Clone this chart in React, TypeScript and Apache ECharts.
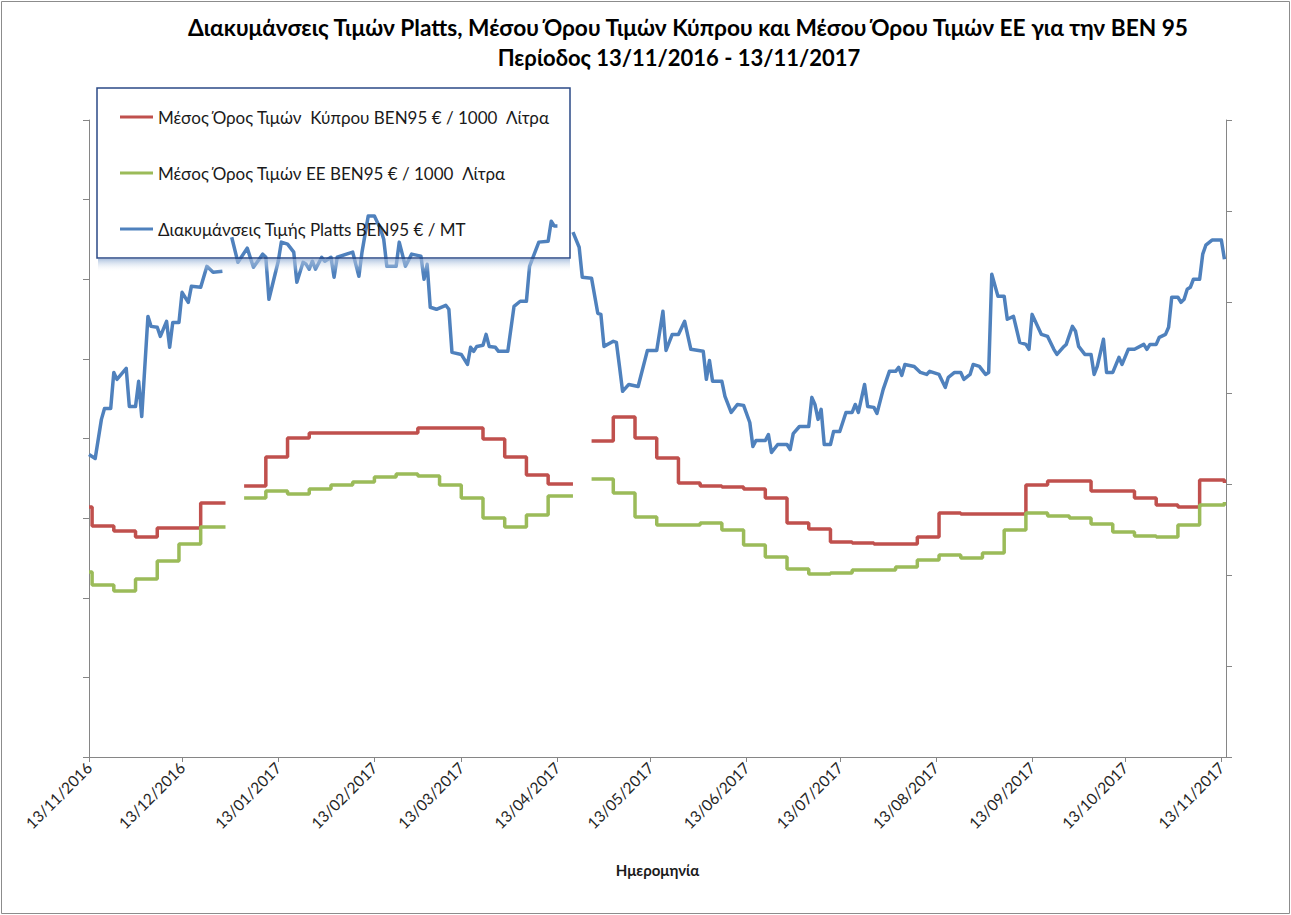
import React, { useEffect, useRef } from 'react';
import * as echarts from 'echarts';

const FONT = "Lato, 'Noto Sans', 'DejaVu Sans', sans-serif";

const titleLine1 = 'Διακυμάνσεις Τιμών Platts, Μέσου Όρου Τιμών Κύπρου και Μέσου Όρου Τιμών ΕΕ για την BEN 95';
const titleLine2 = 'Περίοδος 13/11/2016 - 13/11/2017';
const xAxisName = 'Ημερομηνία';

const cyprusName = 'Μέσος Όρος Τιμών  Κύπρου BEN95 € / 1000  Λίτρα';
const euName = 'Μέσος Όρος Τιμών ΕΕ BEN95 € / 1000  Λίτρα';
const plattsName = 'Διακυμάνσεις Τιμής Platts BEN95 € / MT';

const tickDates = [
  '2016-11-13', '2016-12-13', '2017-01-13', '2017-02-13', '2017-03-13', '2017-04-13', '2017-05-13',
  '2017-06-13', '2017-07-13', '2017-08-13', '2017-09-13', '2017-10-13', '2017-11-13',
];

// weekly bulletin dates (null values mark the weeks without data)
const weekDates = [
  '2016-11-13', '2016-11-14', '2016-11-21', '2016-11-28', '2016-12-05', '2016-12-12', '2016-12-19', '2016-12-26', '2016-12-27',
  '2017-01-02', '2017-01-09', '2017-01-16', '2017-01-23', '2017-01-30', '2017-02-06', '2017-02-13', '2017-02-20',
  '2017-02-27', '2017-03-06', '2017-03-13', '2017-03-20', '2017-03-27', '2017-04-03', '2017-04-10', '2017-04-17', '2017-04-18',
  '2017-04-24', '2017-05-01', '2017-05-08', '2017-05-15', '2017-05-22', '2017-05-29', '2017-06-05', '2017-06-12',
  '2017-06-19', '2017-06-26', '2017-07-03', '2017-07-10', '2017-07-17', '2017-07-24', '2017-07-31', '2017-08-07',
  '2017-08-14', '2017-08-21', '2017-08-28', '2017-09-04', '2017-09-11', '2017-09-18', '2017-09-25', '2017-10-02',
  '2017-10-09', '2017-10-16', '2017-10-23', '2017-10-30', '2017-11-06', '2017-11-14',
];

const cyprusValues = [
  457.0, 445.1, 441.9, 438.1, 443.8, 443.8, 459.5, 459.5, null,
  470.2, 488.4, 500.3, 503.5, 503.5, 503.5, 503.5, 503.5,
  506.6, 506.6, 506.6, 499.7, 488.4, 477.1, 471.4, 471.4, null,
  498.4, 513.5, 500.3, 487.8, 472.1, 470.2, 469.5, 468.3,
  462.6, 446.9, 443.2, 435.0, 434.4, 433.8, 433.8, 438.1,
  453.2, 452.6, 452.6, 452.6, 470.8, 473.3, 473.3, 467.0,
  467.0, 462.6, 458.2, 457.0, 473.9, 472.1,
];

const euValues = [
  416.2, 408.0, 404.2, 411.8, 423.1, 433.8, 444.4, 444.4, null,
  462.6, 467.0, 465.1, 468.3, 470.8, 472.7, 475.8, 477.7,
  476.5, 470.8, 462.6, 450.1, 444.4, 452.0, 463.9, 463.9, null,
  474.6, 465.8, 450.7, 445.7, 445.7, 446.9, 442.5, 433.1,
  425.6, 418.1, 414.9, 415.5, 417.4, 417.4, 419.3, 423.7,
  426.8, 425.0, 428.1, 442.5, 453.2, 451.3, 450.1, 446.3,
  441.3, 438.8, 438.1, 445.7, 458.2, 460.1,
];

// Platts daily quotes [date, €/MT]
const plattsPoints: [string, number | null][] = [
  ['2016-11-13', 416.2], ['2016-11-15', 414.0], ['2016-11-17', 435.5], ['2016-11-18', 441.5], ['2016-11-20', 441.5],
  ['2016-11-21', 461.3], ['2016-11-22', 457.5], ['2016-11-25', 463.5], ['2016-11-26', 442.6], ['2016-11-28', 442.6],
  ['2016-11-29', 456.4], ['2016-11-30', 437.1], ['2016-12-02', 492.1], ['2016-12-03', 486.6], ['2016-12-05', 486.1],
  ['2016-12-06', 481.1], ['2016-12-08', 489.4], ['2016-12-09', 475.1], ['2016-12-10', 488.8], ['2016-12-12', 488.8],
  ['2016-12-13', 505.3], ['2016-12-15', 499.8], ['2016-12-16', 508.6], ['2016-12-19', 508.1], ['2016-12-21', 519.6],
  ['2016-12-23', 516.3], ['2016-12-26', 516.9], ['2016-12-27', null],
  ['2016-12-29', 535.6], ['2016-12-31', 521.8], ['2017-01-03', 529.6], ['2017-01-05', 519.1], ['2017-01-08', 526.3],
  ['2017-01-09', 524.6], ['2017-01-10', 501.5], ['2017-01-13', 522.4], ['2017-01-14', 532.9], ['2017-01-16', 531.8],
  ['2017-01-18', 527.4], ['2017-01-19', 510.8], ['2017-01-21', 521.8], ['2017-01-22', 520.7], ['2017-01-23', 518.0],
  ['2017-01-24', 522.4], ['2017-01-25', 518.0], ['2017-01-27', 524.6], ['2017-01-28', 522.4], ['2017-01-30', 524.6],
  ['2017-01-31', 513.6], ['2017-02-01', 524.6], ['2017-02-04', 526.3], ['2017-02-06', 527.4], ['2017-02-08', 514.1],
  ['2017-02-09', 527.4], ['2017-02-11', 547.2], ['2017-02-13', 547.2], ['2017-02-15', 540.0], ['2017-02-16', 534.5],
  ['2017-02-17', 519.6], ['2017-02-20', 519.6], ['2017-02-21', 532.9], ['2017-02-23', 519.6], ['2017-02-25', 526.3],
  ['2017-02-28', 525.2], ['2017-03-01', 512.5], ['2017-03-02', 520.7], ['2017-03-03', 497.1], ['2017-03-05', 496.0],
  ['2017-03-08', 498.2], ['2017-03-09', 496.0], ['2017-03-10', 472.3], ['2017-03-13', 471.2], ['2017-03-15', 465.7],
  ['2017-03-16', 475.1], ['2017-03-17', 472.9], ['2017-03-18', 475.6], ['2017-03-20', 476.2], ['2017-03-21', 482.2],
  ['2017-03-22', 475.6], ['2017-03-24', 475.1], ['2017-03-25', 472.9], ['2017-03-28', 472.9], ['2017-03-30', 497.6],
  ['2017-04-01', 500.4], ['2017-04-03', 500.4], ['2017-04-04', 519.6], ['2017-04-07', 532.9], ['2017-04-10', 533.4],
  ['2017-04-11', 544.4], ['2017-04-12', 541.7], ['2017-04-13', 541.7], ['2017-04-14', null],
  ['2017-04-18', 538.4], ['2017-04-20', 530.1], ['2017-04-21', 513.6], ['2017-04-24', 513.0], ['2017-04-26', 493.8],
  ['2017-04-27', 493.2], ['2017-04-28', 475.6], ['2017-05-01', 478.4], ['2017-05-02', 477.8], ['2017-05-03', 464.6],
  ['2017-05-04', 450.9], ['2017-05-06', 454.7], ['2017-05-09', 453.6], ['2017-05-12', 473.4], ['2017-05-15', 473.4],
  ['2017-05-17', 494.9], ['2017-05-18', 473.4], ['2017-05-20', 482.2], ['2017-05-22', 482.2], ['2017-05-24', 489.4],
  ['2017-05-26', 474.0], ['2017-05-30', 472.9], ['2017-05-31', 457.5], ['2017-06-01', 467.9], ['2017-06-02', 456.4],
  ['2017-06-05', 456.4], ['2017-06-06', 448.1], ['2017-06-08', 439.3], ['2017-06-10', 443.7], ['2017-06-12', 443.2],
  ['2017-06-14', 433.8], ['2017-06-15', 420.6], ['2017-06-16', 423.9], ['2017-06-19', 423.9], ['2017-06-20', 427.2],
  ['2017-06-21', 417.3], ['2017-06-23', 421.7], ['2017-06-26', 421.7], ['2017-06-27', 418.9], ['2017-06-28', 427.7],
  ['2017-06-30', 431.6], ['2017-07-03', 431.6], ['2017-07-04', 447.6], ['2017-07-05', 443.7], ['2017-07-06', 435.5],
  ['2017-07-07', 441.0], ['2017-07-08', 421.7], ['2017-07-10', 421.7], ['2017-07-11', 428.8], ['2017-07-13', 428.8],
  ['2017-07-15', 439.3], ['2017-07-17', 439.3], ['2017-07-18', 443.7], ['2017-07-19', 439.3], ['2017-07-21', 454.7],
  ['2017-07-22', 442.6], ['2017-07-24', 442.1], ['2017-07-25', 438.8], ['2017-07-27', 452.0], ['2017-07-29', 461.9],
  ['2017-07-31', 461.9], ['2017-08-01', 464.1], ['2017-08-02', 459.7], ['2017-08-03', 465.7], ['2017-08-06', 464.6],
  ['2017-08-08', 461.3], ['2017-08-10', 460.2], ['2017-08-11', 461.9], ['2017-08-14', 460.2], ['2017-08-16', 453.1],
  ['2017-08-17', 458.6], ['2017-08-19', 461.3], ['2017-08-21', 461.3], ['2017-08-22', 457.5], ['2017-08-24', 460.2],
  ['2017-08-25', 465.7], ['2017-08-27', 464.6], ['2017-08-29', 460.2], ['2017-08-30', 461.3], ['2017-08-31', 515.2],
  ['2017-09-02', 503.1], ['2017-09-04', 503.1], ['2017-09-05', 490.5], ['2017-09-07', 492.1], ['2017-09-09', 477.8],
  ['2017-09-11', 476.7], ['2017-09-12', 474.0], ['2017-09-13', 493.2], ['2017-09-16', 482.2], ['2017-09-18', 481.1],
  ['2017-09-20', 474.0], ['2017-09-21', 471.2], ['2017-09-23', 475.1], ['2017-09-24', 476.7], ['2017-09-26', 486.6],
  ['2017-09-27', 483.9], ['2017-09-28', 475.6], ['2017-09-30', 471.2], ['2017-10-02', 471.2], ['2017-10-03', 460.2],
  ['2017-10-04', 464.6], ['2017-10-06', 479.5], ['2017-10-07', 461.3], ['2017-10-09', 461.3], ['2017-10-11', 469.6],
  ['2017-10-12', 465.7], ['2017-10-14', 474.0], ['2017-10-16', 474.0], ['2017-10-19', 476.7], ['2017-10-20', 474.0],
  ['2017-10-21', 476.7], ['2017-10-23', 476.7], ['2017-10-24', 480.6], ['2017-10-26', 482.2], ['2017-10-27', 486.1],
  ['2017-10-28', 502.6], ['2017-10-30', 502.6], ['2017-10-31', 499.8], ['2017-11-01', 501.5], ['2017-11-02', 507.0],
  ['2017-11-03', 508.1], ['2017-11-04', 512.5], ['2017-11-06', 512.5], ['2017-11-07', 526.3], ['2017-11-08', 531.2],
  ['2017-11-10', 534.0], ['2017-11-13', 534.0], ['2017-11-14', 523.5],
];

const ts = (s: string) => {
  const [y, m, d] = s.split('-').map(Number);
  return new Date(y, m - 1, d).getTime();
};
const pad = (n: number) => (n < 10 ? '0' + n : '' + n);
const fmtDate = (v: number) => {
  const d = new Date(v);
  return pad(d.getDate()) + '/' + pad(d.getMonth() + 1) + '/' + d.getFullYear();
};

export default function App() {
  const ref = useRef<HTMLDivElement>(null);

  useEffect(() => {
    document.body.style.margin = '0';
    if (!ref.current) return;
    const chart = echarts.init(ref.current, null, { renderer: 'svg' });
    const tickTs = tickDates.map(ts);
    const axisColor = '#868686';

    const stepData = (vals: (number | null)[]) =>
      weekDates.map((d, i) => [ts(d), vals[i] === null ? '-' : vals[i]]);

    chart.setOption({
      animation: false,
      backgroundColor: '#ffffff',
      title: [
        {
          text: titleLine1,
          left: 683,
          top: 11,
          textAlign: 'center',
          textStyle: { fontSize: 22.7, fontWeight: 'bold', color: '#000', fontFamily: FONT },
        },
        {
          text: titleLine2,
          left: 674,
          top: 41,
          textAlign: 'center',
          textStyle: { fontSize: 22, fontWeight: 'bold', color: '#000', fontFamily: FONT },
        },
      ],
      legend: {
        orient: 'vertical',
        left: 120,
        top: 107,
        padding: 0,
        itemGap: 36,
        itemWidth: 33,
        itemHeight: 3,
        icon: 'rect',
        selectedMode: false,
        textStyle: { fontSize: 17, lineHeight: 20, color: '#1a1a1a', fontFamily: FONT },
        data: [cyprusName, euName, plattsName],
      },
      grid: { left: 89, right: 65, top: 120, bottom: 158 },
      xAxis: {
        type: 'value',
        min: ts('2016-11-13'),
        max: ts('2017-11-14') + 12 * 3600 * 1000,
        axisLine: { lineStyle: { color: axisColor, width: 1 } },
        axisTick: { show: true, length: 5, customValues: tickTs, lineStyle: { color: axisColor } },
        axisLabel: {
          customValues: tickTs,
          rotate: 45,
          fontSize: 15.5,
          color: '#262626',
          fontFamily: FONT,
          margin: 8,
          hideOverlap: false,
          formatter: (v: number) => fmtDate(v),
        },
        splitLine: { show: false },
        name: xAxisName,
        nameLocation: 'middle',
        nameGap: 105,
        nameTextStyle: { fontSize: 15, fontWeight: 'bold', color: '#1a1a1a', fontFamily: FONT },
      },
      yAxis: [
        {
          type: 'value',
          position: 'left',
          min: 300,
          max: 700,
          interval: 50,
          axisLine: { show: true, lineStyle: { color: axisColor, width: 1 } },
          axisTick: { show: true, length: 6, lineStyle: { color: axisColor } },
          axisLabel: { show: false },
          splitLine: { show: false },
        },
        {
          type: 'value',
          position: 'right',
          min: 250,
          max: 600,
          interval: 50,
          axisLine: { show: true, lineStyle: { color: axisColor, width: 1 } },
          axisTick: { show: true, length: 6, lineStyle: { color: axisColor } },
          axisLabel: { show: false },
          splitLine: { show: false },
        },
      ],
      series: [
        {
          name: cyprusName,
          type: 'line',
          yAxisIndex: 0,
          step: 'end',
          showSymbol: false,
          symbol: 'none',
          connectNulls: false,
          color: '#C0504D',
          lineStyle: { width: 3.5, color: '#C0504D' },
          emphasis: { disabled: true },
          data: stepData(cyprusValues),
        },
        {
          name: euName,
          type: 'line',
          yAxisIndex: 0,
          step: 'end',
          showSymbol: false,
          symbol: 'none',
          connectNulls: false,
          color: '#9BBB59',
          lineStyle: { width: 3.5, color: '#9BBB59' },
          emphasis: { disabled: true },
          data: stepData(euValues),
        },
        {
          name: plattsName,
          type: 'line',
          yAxisIndex: 1,
          showSymbol: false,
          symbol: 'none',
          connectNulls: false,
          color: '#4F81BD',
          lineStyle: { width: 3.5, color: '#4F81BD', join: 'round' },
          emphasis: { disabled: true },
          data: plattsPoints.map(([d, v]) => [ts(d), v === null ? '-' : v]),
        },
      ],
      graphic: {
        elements: [
          {
            type: 'rect',
            z: 100,
            silent: true,
            shape: { x: 98, y: 259, width: 472, height: 13 },
            style: {
              fill: new echarts.graphic.LinearGradient(0, 0, 0, 1, [
                { offset: 0, color: 'rgba(150,177,214,0.75)' },
                { offset: 1, color: 'rgba(255,255,255,0)' },
              ]),
            },
          },
          {
            type: 'rect',
            z: 101,
            silent: true,
            shape: { x: 97, y: 88, width: 473, height: 170 },
            style: { fill: 'none', stroke: '#2B4A86', lineWidth: 1.5 },
          },
          {
            type: 'rect',
            z: 101,
            silent: true,
            shape: { x: 1.5, y: 1.5, width: 1288, height: 912 },
            style: { fill: 'none', stroke: '#8c8c8c', lineWidth: 1 },
          },
        ],
      },
    });

    return () => chart.dispose();
  }, []);

  return <div ref={ref} style={{ width: 1291, height: 915 }} />;
}
